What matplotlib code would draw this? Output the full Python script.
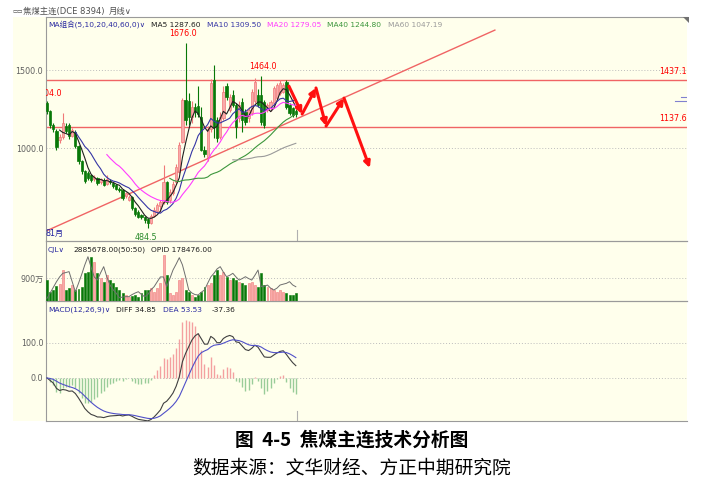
import numpy as np
import pandas as pd
import matplotlib
matplotlib.use('Agg')
import matplotlib.pyplot as plt
from matplotlib.patches import Rectangle, Polygon

plt.rcParams['font.family'] = ['DejaVu Sans', 'Noto Sans CJK SC']

# 焦煤主连 monthly bars
opens = [1290, 1235, 1145, 1110, 1050, 1070, 1140, 1145, 1080, 1105,
         1010, 915, 850, 840, 827, 800, 808, 780, 795, 770,
         790, 776, 760, 740, 731, 690, 670, 688, 613, 592,
         571, 560, 545, 520, 565, 595, 630, 655, 780, 665,
         710, 780, 845, 1040, 1308, 1300, 1200, 1260, 1270, 1200,
         990, 940, 1120, 1436, 1180, 1070, 1190, 1395, 1245, 1340,
         1276, 1190, 1297, 1230, 1190, 1222, 1300, 1340, 1340, 1297,
         1244, 1254, 1286, 1318, 1350, 1361, 1425, 1276, 1254, 1240]
highs = [1304, 1245, 1160, 1120, 1090, 1225, 1160, 1160, 1130, 1115,
         1020, 925, 860, 850, 835, 830, 815, 810, 805, 827,
         800, 785, 770, 750, 740, 720, 700, 695, 620, 600,
         580, 565, 550, 580, 620, 650, 670, 890, 790, 740,
         790, 900, 1040, 1320, 1676, 1350, 1300, 1290, 1400, 1260,
         1010, 1140, 1440, 1530, 1200, 1230, 1400, 1420, 1345, 1370,
         1290, 1300, 1320, 1250, 1260, 1380, 1447, 1380, 1464, 1310,
         1290, 1310, 1395, 1420, 1436, 1420, 1436, 1290, 1265, 1250]
lows = [1220, 1130, 1100, 985, 1030, 1060, 1095, 1060, 1070, 1000,
        900, 835, 775, 795, 785, 790, 765, 770, 755, 760,
        770, 745, 730, 720, 670, 680, 660, 600, 565, 550,
        545, 520, 484.5, 510, 555, 585, 590, 640, 640, 650,
        700, 770, 840, 1030, 1150, 1150, 1160, 1200, 1200, 980,
        940, 920, 1100, 1064, 1040, 1060, 1180, 1310, 1230, 1260,
        1062, 1170, 1105, 1150, 1170, 1210, 1290, 1260, 1148, 1130,
        1230, 1240, 1270, 1300, 1340, 1350, 1250, 1210, 1200, 1200]
closes = [1235, 1145, 1120, 1005, 1070, 1160, 1110, 1075, 1115, 1010,
          915, 850, 790, 808, 795, 815, 777, 800, 765, 800,
          780, 755, 740, 731, 680, 710, 688, 613, 575, 560,
          560, 540, 520, 565, 600, 635, 655, 780, 655, 720,
          770, 880, 1020, 1308, 1180, 1200, 1260, 1240, 1220, 990,
          960, 1125, 1415, 1137, 1064, 1200, 1360, 1330, 1330, 1276,
          1137, 1276, 1180, 1169, 1244, 1361, 1425, 1276, 1169, 1148,
          1276, 1297, 1383, 1404, 1414, 1404, 1265, 1222, 1212, 1220]
# 成交量 (万)
volume = [820, 365, 430, 600, 650, 1212, 430, 495, 625, 430,
          450, 560, 1082, 1147, 1733, 1538, 1082, 886, 755, 1017,
          820, 690, 560, 430, 300, 235, 170, 200, 235, 170,
          300, 430, 430, 495, 365, 495, 690, 1800, 1017, 300,
          235, 365, 820, 886, 430, 365, 235, 170, 235, 365,
          560, 625, 690, 1017, 1212, 1017, 1147, 950, 820, 886,
          820, 755, 690, 625, 690, 755, 625, 560, 1082, 625,
          560, 495, 430, 365, 430, 365, 300, 235, 235, 300]
# 持仓量 OPID (万手)
opid = [3.3, 10, 17, 24, 30, 34.5, 35.5, 36.6, 24, 11.6,
        22, 33, 45, 55.2, 42, 30, 26.1, 35, 42.8, 30,
        19.9, 14, 9.6, 4, 5, 5.4, 5.4, 8, 10, 11.6,
        8, 5.4, 8, 14, 17.8, 24, 30, 30, 17.8, 28,
        38.6, 46, 54, 45, 30, 13.7, 10, 8, 7.5, 11,
        13.7, 22, 30, 34.5, 40, 42.8, 36, 30.3, 32, 34.5,
        30, 26.1, 28, 30.3, 28, 26.1, 32, 38.6, 17.8, 18.5,
        19.9, 16, 13.7, 16, 19.9, 21, 22, 24.1, 20, 17.8]

support, resist = 1137.6, 1437.1
trend = [(-0.3, 468), (142.2, 1756)]
forecast = [(76.8, 1397), (81, 1218), (85.4, 1385), (88.6, 1141), (94.3, 1320), (102.5, 872)]

ma_periods = [5, 10, 20, 40, 60]
ma_colors = ['#202020', '#3535a5', '#ff3cff', '#3c963c', '#9a9a9a']
header_ma = ['1287.60', '1309.50', '1279.05', '1244.80', '1047.19']

W, H = 703, 484
fig = plt.figure(figsize=(W / 100, H / 100), dpi=100)
fig.patch.set_facecolor('white')


def fx(x):
    return x / W


def fy(y):
    return 1 - y / H


bg = '#FFFFEC'
fig.patches.append(Rectangle((fx(13), fy(421)), fx(687) - fx(13), fy(17) - fy(421),
                             transform=fig.transFigure, facecolor=bg, edgecolor='none', zorder=-5))


def panel(y0, y1):
    a = fig.add_axes([fx(46), fy(y1), fx(687) - fx(46), fy(y0) - fy(y1)])
    a.set_facecolor('none')
    a.set_xlim(-0.32, 203.2)
    a.spines['right'].set_visible(False)
    for s in ['left', 'top', 'bottom']:
        a.spines[s].set_color('#9a9a9a')
        a.spines[s].set_linewidth(0.8)
    a.set_xticks([])
    a.tick_params(axis='y', length=0, labelsize=5.8, labelcolor='#606060', pad=2)
    return a


ax = panel(17, 241)
axv = panel(241, 301)
axm = panel(301, 421)

x = np.arange(len(closes))
o = np.array(opens, float)
c = np.array(closes, float)
h = np.array(highs, float)
l = np.array(lows, float)
up = c >= o
up_face, up_edge = '#F8AAAA', '#F07878'
dn_col = '#087808'
cols = np.where(up, up_edge, dn_col)

# main price panel
ax.set_ylim(404, 1840)
ax.set_yticks([1000, 1500])
ax.set_yticklabels(['1000.0', '1500.0'])
grid = dict(color='#bdbdbd', lw=0.7, ls=(0, (1, 2)), zorder=1)
for v in [1000, 1500]:
    ax.axhline(v, **grid)
ax.vlines(x, l, h, colors=cols, lw=0.8, zorder=3)
ax.bar(x[up], (c - o)[up], bottom=o[up], width=0.72, color=up_face, edgecolor=up_edge, lw=0.5, zorder=4)
ax.bar(x[~up], (o - c)[~up], bottom=c[~up], width=0.72, color=dn_col, edgecolor=dn_col, lw=0.5, zorder=4)

cs = pd.Series(c)
for n, col in zip(ma_periods, ma_colors):
    ax.plot(x, cs.rolling(n).mean(), color=col, lw=0.8, zorder=5)

ax.axhline(resist, color='#f06464', lw=1, zorder=2)
ax.axhline(support, color='#f06464', lw=1, zorder=2)
ax.text(1, resist + 25, '%.1f' % resist, transform=ax.get_yaxis_transform(), ha='right', va='bottom', color='red', fontsize=5.8)
ax.text(1, support + 25, '%.1f' % support, transform=ax.get_yaxis_transform(), ha='right', va='bottom', color='red', fontsize=5.8)
ax.plot([p[0] for p in trend], [p[1] for p in trend], color='#f06464', lw=1, zorder=2)

for a_, b_ in zip(forecast[:-1], forecast[1:]):
    ax.annotate('', xy=b_, xytext=a_,
                arrowprops=dict(arrowstyle='-|>', color='#ff1010', lw=2.2, mutation_scale=9,
                                shrinkA=0, shrinkB=0), zorder=6)

# right-edge MA markers
for val, wd in [(float(header_ma[1]), 0.01), (float(header_ma[2]), 0.018)]:
    ax.plot([1 - wd, 1], [val + 20, val + 20], transform=ax.get_yaxis_transform(), color='#8080d0', lw=0.8)

imax = int(np.argmax(h))
imin = int(np.argmin(l))
ax.text(imax - 0.8, h[imax] + 30, '%.1f' % h[imax], ha='center', va='bottom', color='red', fontsize=5.8)
ax.text(68.6, h[68] + 30, '%.1f' % h[68], ha='center', va='bottom', color='red', fontsize=5.8)
ax.text(4.6, h[0] + 15, '%.1f' % h[0], ha='right', va='bottom', color='red', fontsize=5.8, clip_on=True)
ax.text(imin - 0.6, l[imin] - 30, '%.1f' % l[imin], ha='center', va='top', color='#2a8a2a', fontsize=5.8)
ax.text(0, 0.015, '81月', transform=ax.transAxes, ha='left', va='bottom', color='#2020a0', fontsize=5.8)
ax.axvline(79.5, ymin=0, ymax=0.05, color='#b0b0b0', lw=0.8)

# volume panel
axv.set_ylim(0, 2346)
axv.set_yticks([900])
axv.set_yticklabels(['900万'])
axv.axhline(900, **grid)
axv.bar(x[up], np.array(volume)[up], width=0.62, color=up_face, edgecolor=up_edge, lw=0.4, zorder=3)
axv.bar(x[~up], np.array(volume)[~up], width=0.62, color=dn_col, edgecolor=dn_col, lw=0.4, zorder=3)
axo = axv.twinx()
axo.set_ylim(0, 74.8)
axo.plot(x, opid, color='#6e6e6e', lw=0.7, zorder=4)
axo.set_yticks([])
for s in axo.spines.values():
    s.set_visible(False)

# MACD panel
ema12 = cs.ewm(span=12, adjust=False).mean()
ema26 = cs.ewm(span=26, adjust=False).mean()
diff = ema12 - ema26
dea = diff.ewm(span=9, adjust=False).mean()
hist = 2 * (diff - dea)
axm.set_ylim(-123, 220)
axm.set_yticks([0, 100])
axm.set_yticklabels(['0.0', '100.0'])
for v in [0, 100]:
    axm.axhline(v, **grid)
axm.vlines(x, 0, hist, colors=np.where(hist >= 0, '#f4a0a0', '#99cc99'), lw=1.0, zorder=3)
axm.plot(x, diff, color='#404040', lw=0.8, zorder=4)
axm.plot(x, dea, color='#5050c8', lw=0.8, zorder=4)
axm.axvline(79.5, ymin=0, ymax=0.08, color='#b0b0b0', lw=0.8)

# header and legend texts
fs = 5.4
fig.text(fx(12), fy(11.5), '▭▭', color='#404040', fontsize=4, va='center')
fig.text(fx(23), fy(11.5), '焦煤主连(DCE 8394)', color='#505050', fontsize=6, va='center')
fig.text(fx(109), fy(11.5), '月线∨', color='#505050', fontsize=6, va='center')
fig.patches.append(Polygon([(fx(683), fy(17)), (fx(689), fy(17)), (fx(689), fy(23))],
                           closed=True, transform=fig.transFigure, facecolor='#707070', edgecolor='none'))

fig.text(fx(48), fy(25), 'MA组合(5,10,20,40,60,0)∨', color='#2a2aa0', fontsize=fs, va='center')
lx = [151, 207, 267, 327, 388]
for xx, n, col, val in zip(lx, ma_periods, ma_colors, header_ma):
    fig.text(fx(xx), fy(25), 'MA%d %s' % (n, val), color=col, fontsize=fs, va='center')

fig.text(fx(48), fy(250), 'CJL∨', color='#2a2aa0', fontsize=fs, va='center')
fig.text(fx(73), fy(250), '2885678.00(50:50)', color='#202020', fontsize=fs, va='center')
fig.text(fx(151), fy(250), 'OPID 178476.00', color='#202020', fontsize=fs, va='center')
fig.text(fx(48), fy(310), 'MACD(12,26,9)∨', color='#2a2aa0', fontsize=fs, va='center')
fig.text(fx(116), fy(310), 'DIFF 34.85', color='#202020', fontsize=fs, va='center')
fig.text(fx(163), fy(310), 'DEA 53.53', color='#2a2aa0', fontsize=fs, va='center')
fig.text(fx(212), fy(310), '-37.36', color='#202020', fontsize=fs, va='center')

fig.text(0.5, fy(440), '图  4-5  焦煤主连技术分析图', ha='center', va='center', fontsize=13.5,
         fontweight='bold', family=['Noto Sans CJK SC'])
fig.text(fx(352), fy(468), '数据来源：文华财经、方正中期研究院', ha='center', va='center', fontsize=13.5,
         family=['Noto Sans CJK SC'])

fig.savefig('out.png', dpi=100)
